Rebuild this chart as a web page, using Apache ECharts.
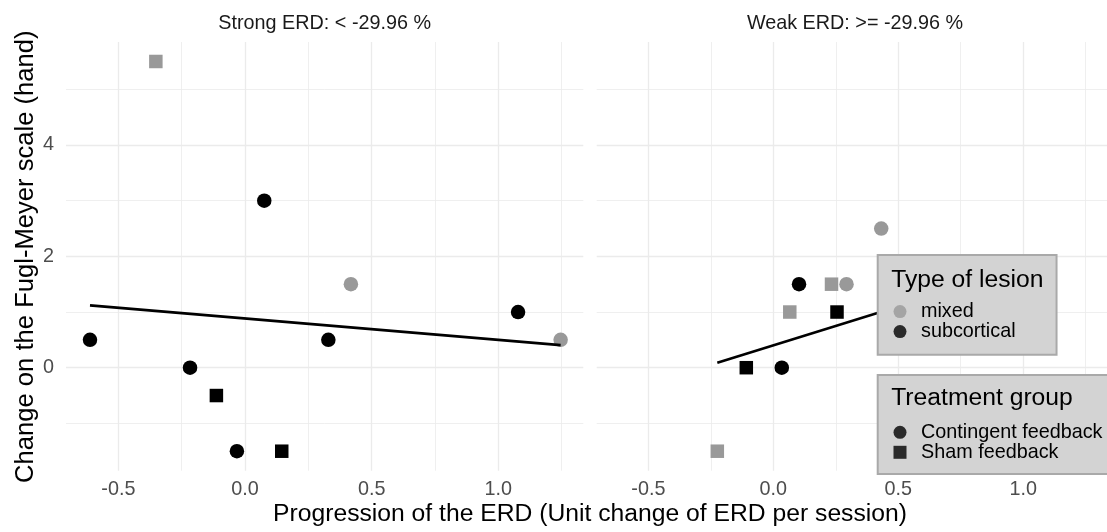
<!DOCTYPE html>
<html>
<head>
<meta charset="utf-8">
<script src="https://cdn.jsdelivr.net/npm/echarts@6/dist/echarts.min.js"></script>
<style>
html,body{margin:0;padding:0;background:#fff;}
#chart{width:1107px;height:532px;}
</style>
</head>
<body>
<div id="chart"></div>
<script>
// ---- data ----
const panelTitles = ['Strong ERD: < -29.96 %', 'Weak ERD: >= -29.96 %'];

const leftX = [-0.352, 0.076, 0.418, 1.078, 1.246, -0.612, 0.329, -0.217, -0.113, -0.032, 0.145];
const leftY = [5.5, 3, 1.5, 1, 0.5, 0.5, 0.5, 0, -0.5, -1.5, -1.5];
const leftLesion = ['mixed','subcortical','mixed','subcortical','mixed','subcortical','subcortical','subcortical','subcortical','subcortical','subcortical'];
const leftGroup = ['Sham feedback','Contingent feedback','Contingent feedback','Contingent feedback','Contingent feedback','Contingent feedback','Contingent feedback','Contingent feedback','Sham feedback','Contingent feedback','Sham feedback'];

const rightX = [0.432, 0.103, 0.233, 0.293, 0.066, 0.255, -0.108, 0.034, -0.224];
const rightY = [2.5, 1.5, 1.5, 1.5, 1, 1, 0, 0, -1.5];
const rightLesion = ['mixed','subcortical','mixed','mixed','mixed','subcortical','subcortical','subcortical','mixed'];
const rightGroup = ['Contingent feedback','Contingent feedback','Sham feedback','Contingent feedback','Sham feedback','Sham feedback','Sham feedback','Contingent feedback','Sham feedback'];

const leftTrendX = [-0.612, 1.246];
const leftTrendY = [1.12, 0.405];
const rightTrendX = [-0.224, 0.9];
const rightTrendY = [0.09, 1.655];

const lesionTypes = ['mixed', 'subcortical'];
const groups = ['Contingent feedback', 'Sham feedback'];

const xMajorTicks = [-0.5, 0, 0.5, 1.0];
const xMinorTicks = [-0.25, 0.25, 0.75, 1.25];
const yMajorTicks = [0, 2, 4];
const yMinorTicks = [-1, 1, 3, 5];

const xRange = [-0.7067, 1.3355];
const yRange = [-1.85, 5.85];

const xTitle = 'Progression of the ERD (Unit change of ERD per session)';
const yTitle = 'Change on the Fugl-Meyer scale (hand)';
const lesionTitle = 'Type of lesion';
const groupTitle = 'Treatment group';

// ---- styling ----
const FONT = "'Liberation Sans', Arial, Helvetica, sans-serif";
const SMALL = 19.8, BIG = 24.7;
const lesionColor = {mixed: '#999999', subcortical: '#000000'};
const groupSymbol = {'Contingent feedback': 'circle', 'Sham feedback': 'rect'};
const groupSize = {'Contingent feedback': 14.5, 'Sham feedback': 13.5};
const GRID_COL = '#ebebeb';

const panels = [
  {x: leftX, y: leftY, lesion: leftLesion, group: leftGroup, tx: leftTrendX, ty: leftTrendY},
  {x: rightX, y: rightY, lesion: rightLesion, group: rightGroup, tx: rightTrendX, ty: rightTrendY}
];

const grids = [
  {left: 66, top: 42, width: 517.3, height: 428.7},
  {left: 596.7, top: 42, width: 516.6, height: 428.7}
];

const xAxes = [], yAxes = [];
grids.forEach((g, p) => {
  xAxes.push({
    type: 'value', gridIndex: p, position: 'bottom', min: xRange[0], max: xRange[1],
    axisLine: {show: false},
    axisTick: {show: false, customValues: xMajorTicks},
    axisLabel: {customValues: xMajorTicks, formatter: v => v.toFixed(1), margin: 8.5,
      fontSize: SMALL, color: '#4d4d4d', fontFamily: FONT},
    splitLine: {show: true, lineStyle: {color: GRID_COL, width: 1.3}}
  });
  xAxes.push({
    type: 'value', gridIndex: p, position: 'top', min: xRange[0], max: xRange[1],
    axisLine: {show: false},
    axisTick: {show: false, customValues: xMinorTicks},
    axisLabel: {show: false},
    splitLine: {show: true, lineStyle: {color: GRID_COL, width: 0.8}}
  });
  yAxes.push({
    type: 'value', gridIndex: p, position: 'left', min: yRange[0], max: yRange[1],
    axisLine: {show: false},
    axisTick: {show: false, customValues: yMajorTicks},
    axisLabel: {show: p === 0, customValues: yMajorTicks, margin: 12,
      fontSize: SMALL, color: '#4d4d4d', fontFamily: FONT},
    splitLine: {show: true, lineStyle: {color: GRID_COL, width: 1.3}}
  });
  yAxes.push({
    type: 'value', gridIndex: p, position: 'right', min: yRange[0], max: yRange[1],
    axisLine: {show: false},
    axisTick: {show: false, customValues: yMinorTicks},
    axisLabel: {show: false},
    splitLine: {show: true, lineStyle: {color: GRID_COL, width: 0.8}}
  });
});

const series = [];
panels.forEach((pd, p) => {
  lesionTypes.forEach(L => {
    groups.forEach(G => {
      const data = [];
      pd.x.forEach((xv, i) => {
        if (pd.lesion[i] === L && pd.group[i] === G) data.push([xv, pd.y[i]]);
      });
      series.push({
        type: 'scatter', name: L + ' / ' + G, xAxisIndex: 2 * p, yAxisIndex: 2 * p,
        data: data, symbol: groupSymbol[G], symbolSize: groupSize[G],
        itemStyle: {color: lesionColor[L], opacity: 1}, silent: true, z: 2
      });
    });
  });
  series.push({
    type: 'line', name: 'trend' + p, xAxisIndex: 2 * p, yAxisIndex: 2 * p,
    data: pd.tx.map((xv, i) => [xv, pd.ty[i]]), symbol: 'none', silent: true,
    lineStyle: {color: '#000', width: 2.6}, z: 3
  });
});
// legend-only series
lesionTypes.forEach(L => series.push({type: 'scatter', name: L, data: [], symbol: 'circle', itemStyle: {color: lesionColor[L]}}));
groups.forEach(G => series.push({type: 'scatter', name: G, data: [], symbol: groupSymbol[G], itemStyle: {color: '#000000'}}));

const legendBase = {
  orient: 'vertical', itemWidth: 13, itemHeight: 13, itemGap: 0, selectedMode: false,
  backgroundColor: '#d3d3d3', borderColor: '#a9a9a9', borderWidth: 2, z: 4,
  textStyle: {fontSize: SMALL, color: '#000', fontFamily: FONT, lineHeight: 18.7, padding: [0, 0, 0, 9.5]}
};

function txt(text, x, y, size, color, extra) {
  return Object.assign({
    type: 'text', x: x, y: y, z: 100,
    style: {text: text, fontSize: size, fontFamily: FONT, fill: color,
      align: 'center', verticalAlign: 'middle', textAlign: 'center', textVerticalAlign: 'middle'}
  }, extra || {});
}

const lesTitle = txt(lesionTitle, 891.2, 279.8, BIG, '#000');
lesTitle.style.align = 'left'; lesTitle.style.textAlign = 'left';
const grpTitle = txt(groupTitle, 891.2, 398.2, BIG, '#000');
grpTitle.style.align = 'left'; grpTitle.style.textAlign = 'left';

const option = {
  animation: false,
  backgroundColor: '#ffffff',
  grid: grids,
  xAxis: xAxes,
  yAxis: yAxes,
  series: series,
  legend: [
    Object.assign({}, legendBase, {
      data: lesionTypes.map(n => ({name: n, icon: 'circle'})),
      left: 877.7, top: 255, padding: [46.6, 41, 13.1, 15.8]
    }),
    Object.assign({}, legendBase, {
      data: groups.map(n => ({name: n, icon: groupSymbol[n]})),
      left: 877.7, top: 375, padding: [47.3, 40, 11.7, 15.8]
    })
  ],
  graphic: [
    txt(panelTitles[0], 324.7, 23.8, SMALL, '#1a1a1a'),
    txt(panelTitles[1], 855, 23.8, SMALL, '#1a1a1a'),
    txt(xTitle, 590, 514.1, BIG, '#000'),
    txt(yTitle, 25.8, 256.7, 25.6, '#000', {rotation: Math.PI / 2}),
    lesTitle,
    grpTitle
  ]
};

const chart = echarts.init(document.getElementById('chart'), null, {renderer: 'canvas'});
chart.setOption(option);
</script>
</body>
</html>
